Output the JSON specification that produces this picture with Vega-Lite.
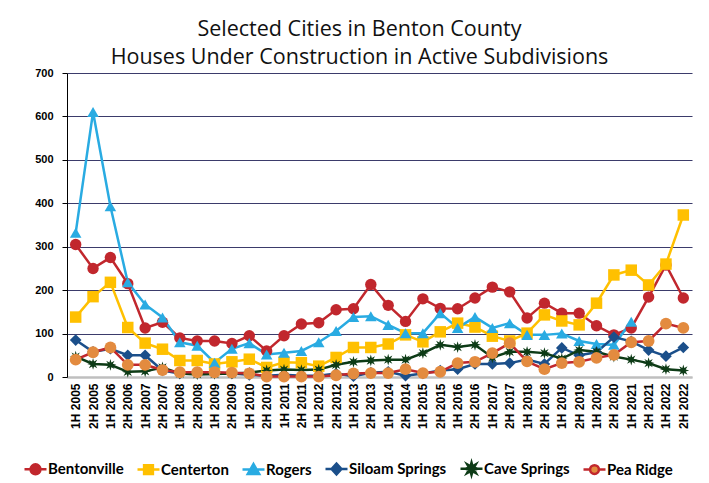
{
 "$schema": "https://vega.github.io/schema/vega-lite/v6.json",
 "width": 625,
 "height": 304,
 "autosize": {"type": "none"},
 "padding": {"left": 67, "top": 73, "right": 17, "bottom": 106},
 "background": "white",
 "config": {"view": {"stroke": null}, "font": "Liberation Sans"},
 "title": {
  "text": ["Selected Cities in Benton County", "Houses Under Construction in Active Subdivisions"],
  "font": "Open Sans", "fontSize": 21.5, "fontWeight": "normal", "color": "#111111",
  "anchor": "middle", "frame": "group", "dx": -20, "lineHeight": 28, "offset": -1
 },
 "data": {"values": [
  {"p":"1H 2005","c":"Bentonville","v":305},{"p":"2H 2005","c":"Bentonville","v":250},{"p":"1H 2006","c":"Bentonville","v":275},{"p":"2H 2006","c":"Bentonville","v":215},{"p":"1H 2007","c":"Bentonville","v":113},{"p":"2H 2007","c":"Bentonville","v":126},{"p":"1H 2008","c":"Bentonville","v":90},{"p":"2H 2008","c":"Bentonville","v":83},{"p":"1H 2009","c":"Bentonville","v":83},{"p":"2H 2009","c":"Bentonville","v":77},{"p":"1H 2010","c":"Bentonville","v":95},{"p":"2H 2010","c":"Bentonville","v":60},{"p":"1H 2011","c":"Bentonville","v":95},{"p":"2H 2011","c":"Bentonville","v":122},{"p":"1H 2012","c":"Bentonville","v":125},{"p":"2H 2012","c":"Bentonville","v":155},{"p":"1H 2013","c":"Bentonville","v":157},{"p":"2H 2013","c":"Bentonville","v":213},{"p":"1H 2014","c":"Bentonville","v":165},{"p":"2H 2014","c":"Bentonville","v":128},{"p":"1H 2015","c":"Bentonville","v":180},{"p":"2H 2015","c":"Bentonville","v":158},{"p":"1H 2016","c":"Bentonville","v":157},{"p":"2H 2016","c":"Bentonville","v":182},{"p":"1H 2017","c":"Bentonville","v":207},{"p":"2H 2017","c":"Bentonville","v":196},{"p":"1H 2018","c":"Bentonville","v":136},{"p":"2H 2018","c":"Bentonville","v":170},{"p":"1H 2019","c":"Bentonville","v":147},{"p":"2H 2019","c":"Bentonville","v":147},{"p":"1H 2020","c":"Bentonville","v":118},{"p":"2H 2020","c":"Bentonville","v":97},{"p":"1H 2021","c":"Bentonville","v":113},{"p":"2H 2021","c":"Bentonville","v":184},{"p":"1H 2022","c":"Bentonville","v":258},{"p":"2H 2022","c":"Bentonville","v":182},
  {"p":"1H 2005","c":"Centerton","v":138},{"p":"2H 2005","c":"Centerton","v":185},{"p":"1H 2006","c":"Centerton","v":218},{"p":"2H 2006","c":"Centerton","v":114},{"p":"1H 2007","c":"Centerton","v":78},{"p":"2H 2007","c":"Centerton","v":64},{"p":"1H 2008","c":"Centerton","v":38},{"p":"2H 2008","c":"Centerton","v":38},{"p":"1H 2009","c":"Centerton","v":30},{"p":"2H 2009","c":"Centerton","v":35},{"p":"1H 2010","c":"Centerton","v":41},{"p":"2H 2010","c":"Centerton","v":22},{"p":"1H 2011","c":"Centerton","v":34},{"p":"2H 2011","c":"Centerton","v":33},{"p":"1H 2012","c":"Centerton","v":25},{"p":"2H 2012","c":"Centerton","v":45},{"p":"1H 2013","c":"Centerton","v":68},{"p":"2H 2013","c":"Centerton","v":68},{"p":"1H 2014","c":"Centerton","v":76},{"p":"2H 2014","c":"Centerton","v":97},{"p":"1H 2015","c":"Centerton","v":81},{"p":"2H 2015","c":"Centerton","v":104},{"p":"1H 2016","c":"Centerton","v":124},{"p":"2H 2016","c":"Centerton","v":115},{"p":"1H 2017","c":"Centerton","v":94},{"p":"2H 2017","c":"Centerton","v":83},{"p":"1H 2018","c":"Centerton","v":101},{"p":"2H 2018","c":"Centerton","v":143},{"p":"1H 2019","c":"Centerton","v":129},{"p":"2H 2019","c":"Centerton","v":120},{"p":"1H 2020","c":"Centerton","v":170},{"p":"2H 2020","c":"Centerton","v":235},{"p":"1H 2021","c":"Centerton","v":246},{"p":"2H 2021","c":"Centerton","v":212},{"p":"1H 2022","c":"Centerton","v":260},{"p":"2H 2022","c":"Centerton","v":373},
  {"p":"1H 2005","c":"Rogers","v":332},{"p":"2H 2005","c":"Rogers","v":610},{"p":"1H 2006","c":"Rogers","v":393},{"p":"2H 2006","c":"Rogers","v":218},{"p":"1H 2007","c":"Rogers","v":167},{"p":"2H 2007","c":"Rogers","v":137},{"p":"1H 2008","c":"Rogers","v":80},{"p":"2H 2008","c":"Rogers","v":72},{"p":"1H 2009","c":"Rogers","v":33},{"p":"2H 2009","c":"Rogers","v":65},{"p":"1H 2010","c":"Rogers","v":78},{"p":"2H 2010","c":"Rogers","v":52},{"p":"1H 2011","c":"Rogers","v":56},{"p":"2H 2011","c":"Rogers","v":60},{"p":"1H 2012","c":"Rogers","v":80},{"p":"2H 2012","c":"Rogers","v":106},{"p":"1H 2013","c":"Rogers","v":138},{"p":"2H 2013","c":"Rogers","v":140},{"p":"1H 2014","c":"Rogers","v":120},{"p":"2H 2014","c":"Rogers","v":101},{"p":"1H 2015","c":"Rogers","v":101},{"p":"2H 2015","c":"Rogers","v":147},{"p":"1H 2016","c":"Rogers","v":113},{"p":"2H 2016","c":"Rogers","v":138},{"p":"1H 2017","c":"Rogers","v":113},{"p":"2H 2017","c":"Rogers","v":124},{"p":"1H 2018","c":"Rogers","v":97},{"p":"2H 2018","c":"Rogers","v":97},{"p":"1H 2019","c":"Rogers","v":100},{"p":"2H 2019","c":"Rogers","v":83},{"p":"1H 2020","c":"Rogers","v":76},{"p":"2H 2020","c":"Rogers","v":74},{"p":"1H 2021","c":"Rogers","v":127},
  {"p":"1H 2005","c":"Siloam Springs","v":85},{"p":"2H 2005","c":"Siloam Springs","v":58},{"p":"1H 2006","c":"Siloam Springs","v":65},{"p":"2H 2006","c":"Siloam Springs","v":50},{"p":"1H 2007","c":"Siloam Springs","v":50},{"p":"2H 2007","c":"Siloam Springs","v":15},{"p":"1H 2008","c":"Siloam Springs","v":8},{"p":"2H 2008","c":"Siloam Springs","v":10},{"p":"1H 2009","c":"Siloam Springs","v":10},{"p":"2H 2009","c":"Siloam Springs","v":8},{"p":"1H 2010","c":"Siloam Springs","v":5},{"p":"2H 2010","c":"Siloam Springs","v":3},{"p":"1H 2011","c":"Siloam Springs","v":5},{"p":"2H 2011","c":"Siloam Springs","v":3},{"p":"1H 2012","c":"Siloam Springs","v":3},{"p":"2H 2012","c":"Siloam Springs","v":8},{"p":"1H 2013","c":"Siloam Springs","v":2},{"p":"2H 2013","c":"Siloam Springs","v":10},{"p":"1H 2014","c":"Siloam Springs","v":12},{"p":"2H 2014","c":"Siloam Springs","v":3},{"p":"1H 2015","c":"Siloam Springs","v":8},{"p":"2H 2015","c":"Siloam Springs","v":15},{"p":"1H 2016","c":"Siloam Springs","v":18},{"p":"2H 2016","c":"Siloam Springs","v":30},{"p":"1H 2017","c":"Siloam Springs","v":30},{"p":"2H 2017","c":"Siloam Springs","v":32},{"p":"1H 2018","c":"Siloam Springs","v":40},{"p":"2H 2018","c":"Siloam Springs","v":30},{"p":"1H 2019","c":"Siloam Springs","v":67},{"p":"2H 2019","c":"Siloam Springs","v":50},{"p":"1H 2020","c":"Siloam Springs","v":57},{"p":"2H 2020","c":"Siloam Springs","v":92},{"p":"1H 2021","c":"Siloam Springs","v":82},{"p":"2H 2021","c":"Siloam Springs","v":62},{"p":"1H 2022","c":"Siloam Springs","v":48},{"p":"2H 2022","c":"Siloam Springs","v":68},
  {"p":"1H 2005","c":"Cave Springs","v":47},{"p":"2H 2005","c":"Cave Springs","v":30},{"p":"1H 2006","c":"Cave Springs","v":28},{"p":"2H 2006","c":"Cave Springs","v":12},{"p":"1H 2007","c":"Cave Springs","v":13},{"p":"2H 2007","c":"Cave Springs","v":22},{"p":"1H 2008","c":"Cave Springs","v":8},{"p":"2H 2008","c":"Cave Springs","v":6},{"p":"1H 2009","c":"Cave Springs","v":7},{"p":"2H 2009","c":"Cave Springs","v":8},{"p":"1H 2010","c":"Cave Springs","v":10},{"p":"2H 2010","c":"Cave Springs","v":15},{"p":"1H 2011","c":"Cave Springs","v":17},{"p":"2H 2011","c":"Cave Springs","v":16},{"p":"1H 2012","c":"Cave Springs","v":17},{"p":"2H 2012","c":"Cave Springs","v":28},{"p":"1H 2013","c":"Cave Springs","v":35},{"p":"2H 2013","c":"Cave Springs","v":38},{"p":"1H 2014","c":"Cave Springs","v":40},{"p":"2H 2014","c":"Cave Springs","v":40},{"p":"1H 2015","c":"Cave Springs","v":55},{"p":"2H 2015","c":"Cave Springs","v":74},{"p":"1H 2016","c":"Cave Springs","v":69},{"p":"2H 2016","c":"Cave Springs","v":74},{"p":"1H 2017","c":"Cave Springs","v":45},{"p":"2H 2017","c":"Cave Springs","v":58},{"p":"1H 2018","c":"Cave Springs","v":58},{"p":"2H 2018","c":"Cave Springs","v":55},{"p":"1H 2019","c":"Cave Springs","v":42},{"p":"2H 2019","c":"Cave Springs","v":62},{"p":"1H 2020","c":"Cave Springs","v":58},{"p":"2H 2020","c":"Cave Springs","v":47},{"p":"1H 2021","c":"Cave Springs","v":40},{"p":"2H 2021","c":"Cave Springs","v":32},{"p":"1H 2022","c":"Cave Springs","v":18},{"p":"2H 2022","c":"Cave Springs","v":15},
  {"p":"1H 2005","c":"Pea Ridge","v":40},{"p":"2H 2005","c":"Pea Ridge","v":57},{"p":"1H 2006","c":"Pea Ridge","v":68},{"p":"2H 2006","c":"Pea Ridge","v":28},{"p":"1H 2007","c":"Pea Ridge","v":28},{"p":"2H 2007","c":"Pea Ridge","v":16},{"p":"1H 2008","c":"Pea Ridge","v":11},{"p":"2H 2008","c":"Pea Ridge","v":11},{"p":"1H 2009","c":"Pea Ridge","v":11},{"p":"2H 2009","c":"Pea Ridge","v":10},{"p":"1H 2010","c":"Pea Ridge","v":8},{"p":"2H 2010","c":"Pea Ridge","v":1},{"p":"1H 2011","c":"Pea Ridge","v":1},{"p":"2H 2011","c":"Pea Ridge","v":1},{"p":"1H 2012","c":"Pea Ridge","v":1},{"p":"2H 2012","c":"Pea Ridge","v":4},{"p":"1H 2013","c":"Pea Ridge","v":8},{"p":"2H 2013","c":"Pea Ridge","v":9},{"p":"1H 2014","c":"Pea Ridge","v":9},{"p":"2H 2014","c":"Pea Ridge","v":18},{"p":"1H 2015","c":"Pea Ridge","v":9},{"p":"2H 2015","c":"Pea Ridge","v":12},{"p":"1H 2016","c":"Pea Ridge","v":32},{"p":"2H 2016","c":"Pea Ridge","v":35},{"p":"1H 2017","c":"Pea Ridge","v":55},{"p":"2H 2017","c":"Pea Ridge","v":78},{"p":"1H 2018","c":"Pea Ridge","v":36},{"p":"2H 2018","c":"Pea Ridge","v":18},{"p":"1H 2019","c":"Pea Ridge","v":32},{"p":"2H 2019","c":"Pea Ridge","v":35},{"p":"1H 2020","c":"Pea Ridge","v":44},{"p":"2H 2020","c":"Pea Ridge","v":51},{"p":"1H 2021","c":"Pea Ridge","v":80},{"p":"2H 2021","c":"Pea Ridge","v":83},{"p":"1H 2022","c":"Pea Ridge","v":123},{"p":"2H 2022","c":"Pea Ridge","v":113}
 ]},
 "encoding": {
  "x": {"field": "p", "type": "ordinal", "sort": null, "scale": {"type": "point", "padding": 0.5},
   "axis": {"title": null, "labelAngle": -90, "labelFont": "Liberation Sans", "labelFontWeight": "bold", "labelFontSize": 12, "labelColor": "#000000", "ticks": false, "grid": false, "domainColor": "#bfbfbf", "domainWidth": 2, "labelPadding": 6}},
  "y": {"field": "v", "type": "quantitative", "scale": {"domain": [0, 700], "nice": false},
   "axis": {"title": null, "values": [0, 100, 200, 300, 400, 500, 600, 700], "domainColor": "#000000", "domainWidth": 1, "tickColor": "#000000", "tickSize": 5, "tickWidth": 1, "labelFont": "Liberation Sans", "labelFontWeight": "bold", "labelFontSize": 11, "labelColor": "#000000", "labelPadding": 9,
    "gridColor": {"condition": {"test": "datum.value === 0", "value": "#bfbfbf"}, "value": "#3b3b6b"},
    "gridWidth": {"condition": {"test": "datum.value === 0", "value": 2}, "value": 1.2}}}
 },
 "resolve": {"scale": {"stroke": "independent", "fill": "independent", "shape": "independent"}},
 "layer": [
  {"mark": {"type": "line", "strokeWidth": 2.5},
   "encoding": {
    "stroke": {"field": "c", "type": "nominal", "legend": null,
     "scale": {"domain": ["Bentonville", "Centerton", "Rogers", "Siloam Springs", "Cave Springs", "Pea Ridge"], "range": ["#c1272d", "#ffc000", "#29abe2", "#1b4f8a", "#0d3b16", "#c1272d"]}}
   }},
  {"mark": {"type": "point", "filled": true, "opacity": 1, "strokeWidth": 0},
   "encoding": {
    "fill": {"field": "c", "type": "nominal", "legend": null,
     "scale": {"domain": ["Bentonville", "Centerton", "Rogers", "Siloam Springs", "Cave Springs", "Pea Ridge"], "range": ["#c1272d", "#ffc000", "#29abe2", "#1b4f8a", "#0d3b16", "#e38b3f"]}},
    "shape": {"field": "c", "type": "nominal", "legend": null,
     "scale": {"domain": ["Bentonville", "Centerton", "Rogers", "Siloam Springs", "Cave Springs", "Pea Ridge"], "range": ["circle", "square", "triangle-up", "diamond", "M0,-1L0.17,-0.41L0.71,-0.71L0.41,-0.17L1,0L0.41,0.17L0.71,0.71L0.17,0.41L0,1L-0.17,0.41L-0.71,0.71L-0.41,0.17L-1,0L-0.41,-0.17L-0.71,-0.71L-0.17,-0.41Z", "circle"]}},
    "size": {"field": "c", "type": "ordinal", "legend": null,
     "scale": {"domain": ["Bentonville", "Centerton", "Rogers", "Siloam Springs", "Cave Springs", "Pea Ridge"], "range": [130, 140, 150, 110, 140, 85]}}
   }},
  {"transform": [{"filter": "false"}],
   "mark": {"type": "point", "filled": true, "opacity": 1, "strokeWidth": 2.5},
   "encoding": {
    "stroke": {"field": "c", "type": "nominal",
     "scale": {"domain": ["Bentonville", "Centerton", "Rogers", "Siloam Springs", "Cave Springs", "Pea Ridge"], "range": ["#c1272d", "#ffc000", "#29abe2", "#1b4f8a", "#0d3b16", "#c1272d"]},
     "legend": {"title": null, "orient": "none", "legendX": -44, "legendY": 383, "direction": "horizontal", "columns": 6, "padding": 0, "symbolSize": 484, "symbolStrokeWidth": 2.5, "symbolOpacity": 1, "labelFont": "Lato", "labelFontSize": 15, "labelFontWeight": "bold", "labelColor": "#000000", "labelOffset": 0, "columnPadding": 8}},
    "fill": {"field": "c", "type": "nominal",
     "scale": {"domain": ["Bentonville", "Centerton", "Rogers", "Siloam Springs", "Cave Springs", "Pea Ridge"], "range": ["#c1272d", "#ffc000", "#29abe2", "#1b4f8a", "#0d3b16", "#e38b3f"]},
     "legend": {"title": null, "orient": "none", "legendX": -44, "legendY": 383, "direction": "horizontal", "columns": 6, "padding": 0, "symbolSize": 484, "symbolStrokeWidth": 2.5, "symbolOpacity": 1, "labelFont": "Lato", "labelFontSize": 15, "labelFontWeight": "bold", "labelColor": "#000000", "labelOffset": 0, "columnPadding": 8}},
    "shape": {"field": "c", "type": "nominal",
     "scale": {"domain": ["Bentonville", "Centerton", "Rogers", "Siloam Springs", "Cave Springs", "Pea Ridge"], "range": [
      "M-1,0L-0.45,0M0.45,0L1,0M-0.45,0A0.45,0.45 0 1,1 0.45,0A0.45,0.45 0 1,1 -0.45,0Z",
      "M-1,0L-0.4,0M0.4,0L1,0M-0.4,-0.4L0.4,-0.4L0.4,0.4L-0.4,0.4Z",
      "M-1,0L-0.3,0M0.3,0L1,0M0,-0.5L0.52,0.4L-0.52,0.4Z",
      "M-1,0L-0.45,0M0.45,0L1,0M0,-0.5L0.45,0L0,0.5L-0.45,0Z",
      "M-1,0L-0.5,0M0.5,0L1,0M0,-0.55L0.09,-0.22L0.39,-0.39L0.22,-0.09L0.55,0L0.22,0.09L0.39,0.39L0.09,0.22L0,0.55L-0.09,0.22L-0.39,0.39L-0.22,0.09L-0.55,0L-0.22,-0.09L-0.39,-0.39L-0.09,-0.22Z",
      "M-1,0L-0.4,0M0.4,0L1,0M-0.4,0A0.4,0.4 0 1,1 0.4,0A0.4,0.4 0 1,1 -0.4,0Z"]},
     "legend": {"title": null, "orient": "none", "legendX": -44, "legendY": 383, "direction": "horizontal", "columns": 6, "padding": 0, "symbolSize": 484, "symbolStrokeWidth": 2.5, "symbolOpacity": 1, "labelFont": "Lato", "labelFontSize": 15, "labelFontWeight": "bold", "labelColor": "#000000", "labelOffset": 0, "columnPadding": 8}}
   }}
 ]
}
